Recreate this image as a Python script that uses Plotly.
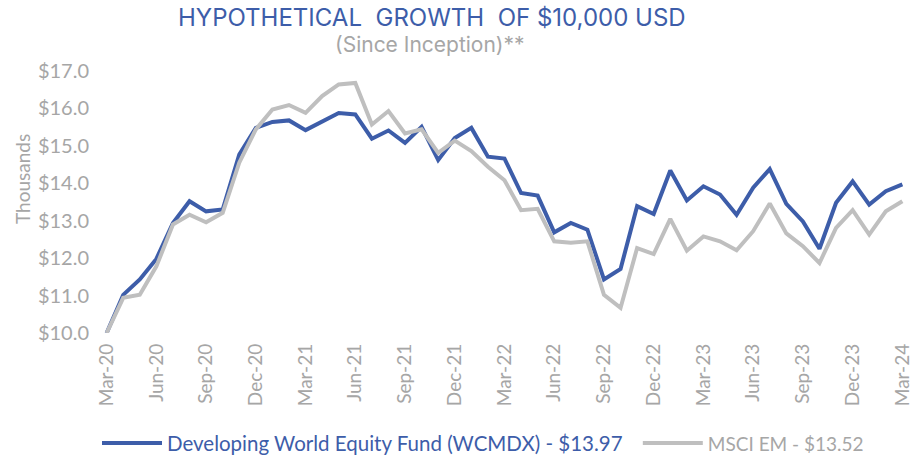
import plotly.graph_objects as go
import pandas as pd

months = [d.strftime("%b-%y") for d in pd.date_range("2020-03-01", "2024-03-01", freq="MS")]

wcmdx = [10.00, 11.02, 11.43, 11.98, 12.94, 13.52, 13.25, 13.30, 14.77, 15.48,
         15.64, 15.68, 15.42, 15.66, 15.88, 15.84, 15.19, 15.41, 15.08, 15.51,
         14.62, 15.21, 15.48, 14.71, 14.66, 13.74, 13.67, 12.69, 12.94, 12.76,
         11.43, 11.71, 13.39, 13.18, 14.34, 13.54, 13.92, 13.70, 13.16, 13.88,
         14.38, 13.45, 12.98, 12.25, 13.48, 14.05, 13.43, 13.79, 13.97]

msci_em = [10.00, 10.94, 11.02, 11.78, 12.90, 13.16, 12.96, 13.21, 14.55, 15.44,
           15.97, 16.09, 15.88, 16.33, 16.64, 16.68, 15.57, 15.93, 15.33, 15.44,
           14.81, 15.14, 14.86, 14.44, 14.08, 13.28, 13.32, 12.45, 12.41, 12.45,
           11.02, 10.67, 12.27, 12.11, 13.05, 12.20, 12.58, 12.45, 12.21, 12.72,
           13.46, 12.66, 12.32, 11.87, 12.81, 13.28, 12.63, 13.25, 13.52]

tick_labels = months[::3]

BLUE = "#3d5da9"
GRAY = "#bfbfbf"
TXT = "#a6a6a6"
FONT = "Lato"
TFONT = "Inter"

W, H = 913, 463
L, R, T, B = 100, 4, 71, 130
PW, PH = W - L - R, H - T - B


def px(xp):
    return (xp - L) / PW


def py(yp):
    return (H - B - yp) / PH


x = list(range(len(months)))

fig = go.Figure()
fig.add_trace(go.Scatter(
    x=x, y=wcmdx, mode="lines",
    line=dict(color=BLUE, width=4),
    name=f"<span style='color:{BLUE};font-size:20.5px'>Developing World Equity Fund (WCMDX) - ${wcmdx[-1]:.2f}</span>"
         + "&nbsp;" * 2,
))
fig.add_trace(go.Scatter(
    x=x, y=msci_em, mode="lines",
    line=dict(color=GRAY, width=4),
    name=f"<span style='color:{TXT};font-size:19px'>MSCI EM - ${msci_em[-1]:.2f}</span>",
))

fig.update_layout(
    width=W, height=H,
    margin=dict(l=L, r=R, t=T, b=B, autoexpand=False),
    paper_bgcolor="white", plot_bgcolor="white",
    font=dict(family=FONT, color=TXT),
    showlegend=True,
    legend=dict(
        orientation="h", x=px(97), y=py(443), xanchor="left", yanchor="middle",
        font=dict(size=20, family=FONT), itemwidth=60,
        bgcolor="rgba(0,0,0,0)",
    ),
    xaxis=dict(
        range=[-0.4, 48.4], tickmode="array",
        tickvals=x[::3], ticktext=tick_labels, tickangle=-90,
        tickfont=dict(size=19, color=TXT), showgrid=False, zeroline=False,
        showline=False, ticks="", ticklabelstandoff=6, automargin=False,
    ),
    yaxis=dict(
        range=[10, 17], dtick=1, tickformat="$.1f",
        tickfont=dict(size=20, color=TXT), showgrid=False, zeroline=False,
        showline=False, ticks="", ticklabelstandoff=10, automargin=False,
    ),
    annotations=[
        dict(text="HYPOTHETICAL  GROWTH  OF $10,000 USD", x=px(432), y=py(18),
             xref="paper", yref="paper", xanchor="center", yanchor="middle",
             showarrow=False, font=dict(size=24, color=BLUE, family=TFONT)),
        dict(text="(Since Inception)**", x=px(430), y=py(45),
             xref="paper", yref="paper", xanchor="center", yanchor="middle",
             showarrow=False, font=dict(size=21, color=TXT, family=TFONT)),
        dict(text="Thousands", x=px(22), y=py(179), textangle=-90,
             xref="paper", yref="paper", xanchor="center", yanchor="middle",
             showarrow=False, font=dict(size=19, color=TXT, family=FONT)),
    ],
)

fig.write_html("out.html", config={"displayModeBar": False},
               post_script="document.body.style.margin='0px';")
